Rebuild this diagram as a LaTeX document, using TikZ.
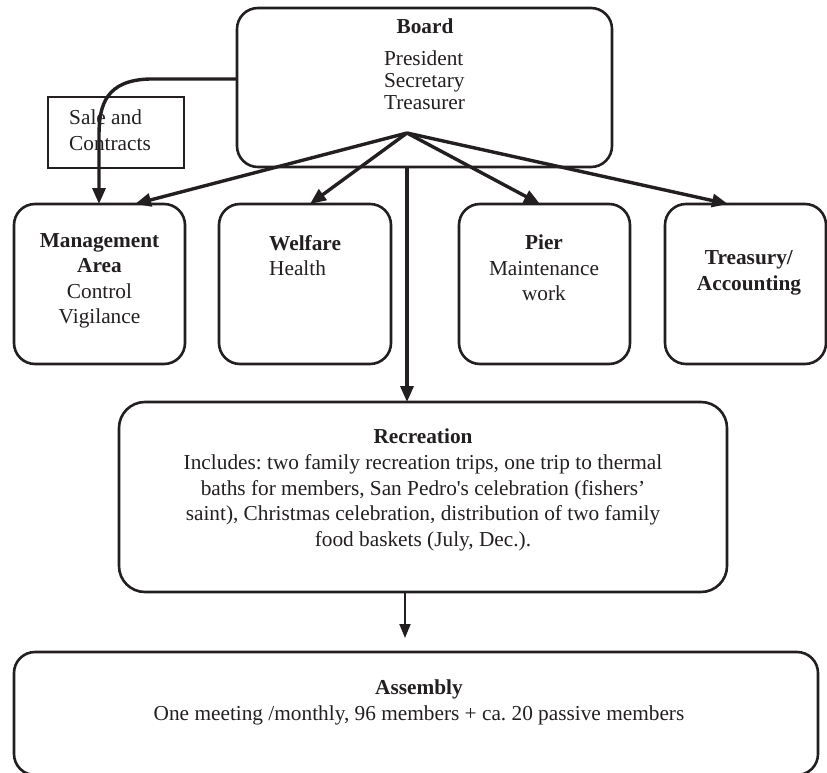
\documentclass[tikz,border=0pt]{standalone}
\usepackage{fontspec}
\setmainfont{Liberation Serif}[Ligatures=TeXOff]
\usetikzlibrary{arrows.meta}
\definecolor{ink}{HTML}{231F20}
\frenchspacing
\begin{document}
\begin{tikzpicture}[x=1pt,y=-1pt,
  txt/.style={font=\fontsize{21.3}{25.5}\selectfont, inner sep=0pt, text=ink, align=center},
  rbox/.style={draw=ink, line width=2.6pt, rounded corners=21pt, inner sep=0pt},
  sbox/.style={draw=ink, line width=1.4pt, inner sep=0pt},
  conn/.style={draw=ink, line width=3.4pt, -{Triangle[length=16pt,width=13pt]}},
  thinconn/.style={draw=ink, line width=2pt, -{Triangle[length=14pt,width=11pt]}}
]
\useasboundingbox (0,0) rectangle (827,773);

% boxes
\node[rbox, minimum width=375pt, minimum height=159pt] (board) at (424.5,87.5) {};
\node[sbox, minimum width=136pt, minimum height=71pt] (sale) at (116,132.5) {};
\node[rbox, minimum width=171pt, minimum height=160pt] (mgmt) at (99.5,284) {};
\node[rbox, minimum width=172pt, minimum height=160pt] (welf) at (305,284) {};
\node[rbox, minimum width=171pt, minimum height=160pt] (pier) at (544.5,284) {};
\node[rbox, minimum width=161pt, minimum height=160pt] (treas) at (745.5,284) {};
\node[rbox, rounded corners=26pt, minimum width=608pt, minimum height=190pt] (rec) at (423,497) {};
\node[rbox, minimum width=804pt, minimum height=123pt] (asm) at (416,713.5) {};

% texts
\node[txt] (boardT) at (425,26) {\textbf{Board}};
\node[txt, align=left, font=\fontsize{21.3}{22}\selectfont] (boardM) at (424.5,80) {President\\Secretary\\Treasurer};
\node[txt, align=left, anchor=west, font=\fontsize{21.3}{26}\selectfont] (saleT) at (69,130) {Sale and\\Contracts};
\node[txt] (mgmtT) at (99.5,281) {\textbf{Management}\\\textbf{Area}\\Control\\Vigilance};
\node[txt, align=left, anchor=west] (welfT) at (269,255.5) {\textbf{Welfare}\\Health};
\node[txt] (pierT) at (544,268) {\textbf{Pier}\\Maintenance\\work};
\node[txt] (treasT) at (749,273) {\textbf{Treasury/}\\\textbf{Accounting}};
\node[txt, font=\fontsize{21.3}{25.8}\selectfont] (recT) at (423,490) {\textbf{Recreation}\\Includes: two family recreation trips, one trip to thermal\\baths for members, San Pedro's celebration (fishers’\\saint), Christmas celebration, distribution of two family\\food baskets (July, Dec.).};
\node[txt, font=\fontsize{21.3}{26}\selectfont] (asmT) at (419,702) {\textbf{Assembly}\\One meeting /monthly, 96 members + ca. 20 passive members};

% connectors
\coordinate (apex) at (407,133);
\coordinate (bl) at (237,79);
\coordinate (mgTopL) at (99,204);
\coordinate (mgTopR) at (135,204);
\coordinate (wfTop) at (310,204);
\coordinate (prTop) at (540,204);
\coordinate (trTop) at (728,204);
\coordinate (vstart) at (407,167);
\coordinate (vend) at (407,402);
\coordinate (rstart) at (405,592);
\coordinate (rend) at (405,638);

\draw[conn] (bl) -- (150,79) .. controls (106,80) and (99,105) .. (99,135) -- (mgTopL);
\draw[conn] (apex) -- (mgTopR);
\draw[conn] (apex) -- (wfTop);
\draw[conn] (apex) -- (prTop);
\draw[conn] (apex) -- (trTop);
\draw[conn] (vstart) -- (vend);
\draw[thinconn] (rstart) -- (rend);
\end{tikzpicture}
\end{document}
